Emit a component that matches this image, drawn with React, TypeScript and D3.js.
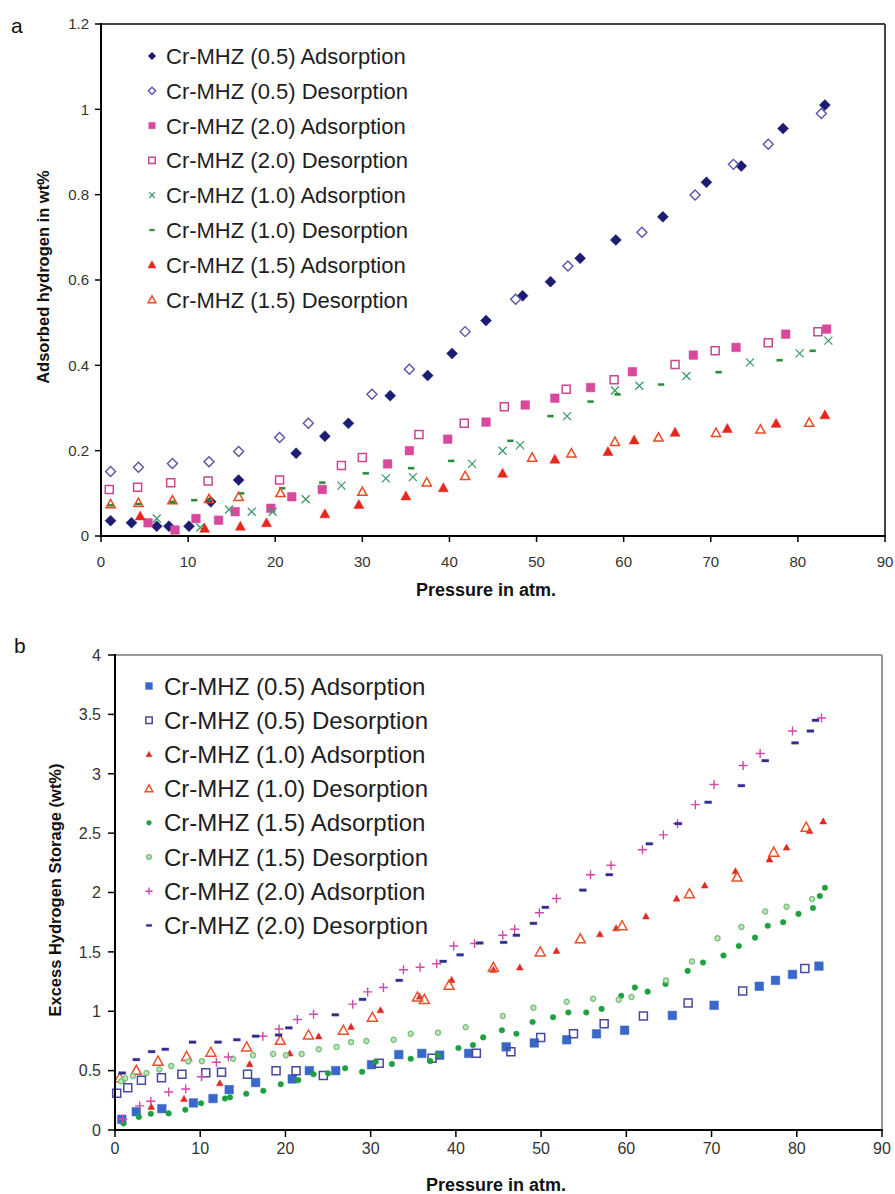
import React from 'react';
import * as d3 from 'd3';

type Pt = [number, number];
type Shape = 'diamond' | 'square' | 'triangle' | 'x' | 'dash' | 'plus' | 'circle';

// ---------- shared ticks ----------
const xTicks = [0, 10, 20, 30, 40, 50, 60, 70, 80, 90];
const aYTicks = [0, 0.2, 0.4, 0.6, 0.8, 1, 1.2];
const bYTicks = [0, 0.5, 1, 1.5, 2, 2.5, 3, 3.5, 4];

// ---------- panel a data ----------
const a05Ads: Pt[] = [[1.1,0.036],[3.5,0.031],[6.4,0.023],[7.8,0.023],[10.1,0.023],[12.6,0.08],[15.8,0.131],[22.4,0.194],[25.7,0.234],[28.4,0.264],[33.2,0.329],[37.5,0.376],[40.3,0.428],[44.2,0.505],[48.4,0.563],[51.6,0.596],[55.0,0.651],[59.1,0.694],[64.5,0.748],[69.5,0.829],[73.5,0.867],[78.3,0.955],[83.1,1.01]];
const a05Des: Pt[] = [[1.1,0.151],[4.3,0.161],[8.2,0.170],[12.4,0.174],[15.8,0.198],[20.5,0.231],[23.8,0.264],[31.1,0.332],[35.4,0.391],[41.8,0.479],[47.6,0.555],[53.6,0.633],[62.1,0.712],[68.2,0.799],[72.6,0.871],[76.6,0.918],[82.7,0.99]];
const a20Ads: Pt[] = [[5.4,0.031],[8.5,0.014],[10.9,0.041],[13.5,0.037],[15.4,0.057],[19.5,0.065],[21.9,0.092],[25.4,0.109],[32.9,0.169],[35.4,0.2],[39.8,0.227],[44.2,0.267],[48.7,0.307],[52.1,0.323],[56.2,0.348],[61.0,0.385],[68.0,0.424],[72.9,0.442],[78.6,0.473],[83.3,0.485]];
const a20Des: Pt[] = [[0.95,0.109],[4.2,0.114],[8.0,0.125],[12.3,0.129],[20.5,0.131],[27.6,0.165],[30.0,0.184],[36.5,0.238],[41.7,0.264],[46.3,0.303],[53.4,0.344],[58.9,0.366],[65.9,0.402],[70.5,0.434],[76.6,0.453],[82.3,0.479]];
const a10Ads: Pt[] = [[6.4,0.041],[11.4,0.02],[14.7,0.062],[17.3,0.057],[19.7,0.057],[23.5,0.086],[27.6,0.118],[32.7,0.135],[35.8,0.138],[42.6,0.169],[46.1,0.2],[48.1,0.213],[53.5,0.281],[59.0,0.341],[61.8,0.352],[67.2,0.375],[74.5,0.407],[80.2,0.428],[83.5,0.458]];
const a10Des: Pt[] = [[1.1,0.072],[4.3,0.075],[8.2,0.08],[10.7,0.084],[12.4,0.085],[16.1,0.1],[20.8,0.112],[25.4,0.125],[30.4,0.147],[35.6,0.159],[40.2,0.176],[47.0,0.223],[51.6,0.281],[56.2,0.315],[59.3,0.332],[64.3,0.355],[70.9,0.384],[77.9,0.412],[81.7,0.434]];
const a15Ads: Pt[] = [[4.5,0.047],[11.9,0.018],[16.0,0.023],[19.0,0.031],[25.7,0.052],[29.6,0.074],[35.0,0.094],[39.3,0.113],[46.1,0.147],[52.1,0.18],[58.2,0.198],[61.2,0.225],[65.9,0.243],[71.9,0.252],[77.5,0.264],[83.1,0.284]];
const a15Des: Pt[] = [[1.1,0.075],[4.3,0.078],[8.2,0.084],[12.4,0.087],[15.8,0.092],[20.6,0.101],[30.0,0.104],[37.4,0.126],[41.8,0.141],[49.5,0.184],[54.0,0.194],[59.0,0.221],[64.0,0.231],[70.6,0.242],[75.7,0.25],[81.3,0.266]];

// ---------- panel b data ----------
const b05Ads: Pt[] = [[0.8,0.09],[2.5,0.154],[5.5,0.18],[9.2,0.228],[11.5,0.265],[13.4,0.34],[16.5,0.4],[20.8,0.43],[22.8,0.5],[25.9,0.5],[30.1,0.55],[33.3,0.635],[36.0,0.645],[38.1,0.63],[41.5,0.645],[45.9,0.70],[49.2,0.733],[53.0,0.76],[56.5,0.81],[59.8,0.84],[65.4,0.965],[70.3,1.05],[75.6,1.21],[77.5,1.26],[79.5,1.31],[82.6,1.38]];
const b05Des: Pt[] = [[0.2,0.31],[1.5,0.355],[3.1,0.418],[5.45,0.44],[7.85,0.47],[10.65,0.483],[12.5,0.486],[15.55,0.47],[18.9,0.5],[21.25,0.5],[24.45,0.458],[31.0,0.563],[37.2,0.605],[42.4,0.646],[46.45,0.66],[49.95,0.778],[53.8,0.81],[57.4,0.895],[62.0,0.96],[67.25,1.07],[73.65,1.17],[80.95,1.36]];
const b10Ads: Pt[] = [[4.25,0.196],[8.1,0.263],[12.3,0.395],[15.8,0.556],[20.5,0.646],[23.9,0.79],[27.7,0.87],[31.15,1.01],[35.75,1.125],[39.5,1.265],[44.4,1.35],[47.5,1.37],[51.8,1.51],[56.9,1.65],[58.8,1.70],[62.3,1.80],[65.9,1.95],[69.2,2.06],[72.8,2.18],[76.8,2.28],[78.8,2.38],[81.5,2.52],[83.1,2.6]];
const b10Des: Pt[] = [[0.55,0.44],[2.5,0.503],[5.05,0.58],[8.4,0.62],[11.25,0.655],[15.45,0.70],[19.4,0.755],[22.7,0.80],[26.8,0.84],[30.2,0.95],[35.5,1.12],[36.3,1.10],[39.2,1.22],[44.4,1.37],[49.9,1.50],[54.6,1.61],[59.5,1.72],[67.4,1.99],[73.0,2.13],[77.3,2.34],[81.1,2.55]];
const b15Ads: Pt[] = [[1.0,0.055],[2.8,0.11],[4.2,0.137],[6.3,0.14],[8.25,0.17],[10.1,0.225],[12.9,0.265],[13.5,0.275],[15.4,0.305],[17.4,0.33],[19.45,0.385],[21.5,0.42],[23.3,0.47],[25.0,0.477],[27.0,0.52],[29.0,0.49],[30.6,0.575],[32.5,0.556],[34.7,0.60],[37.0,0.58],[37.9,0.63],[40.3,0.69],[42.0,0.716],[43.2,0.78],[45.4,0.84],[47.1,0.81],[49.0,0.91],[51.4,0.95],[53.2,0.99],[55.3,0.99],[57.1,1.02],[59.4,1.13],[61.0,1.20],[62.5,1.165],[64.6,1.23],[67.2,1.34],[69.0,1.41],[71.4,1.47],[73.2,1.55],[75.1,1.62],[76.6,1.72],[78.4,1.75],[80.2,1.82],[81.9,1.87],[82.7,1.97],[83.3,2.04]];
const b15Des: Pt[] = [[0.7,0.41],[1.2,0.435],[2.1,0.455],[3.7,0.48],[5.2,0.51],[6.6,0.54],[8.6,0.578],[10.2,0.58],[13.85,0.6],[16.2,0.63],[18.55,0.64],[20.05,0.63],[21.9,0.64],[23.9,0.68],[26.0,0.70],[27.7,0.74],[29.5,0.75],[32.7,0.76],[34.7,0.81],[37.9,0.82],[41.15,0.866],[45.5,0.96],[49.1,1.03],[53.0,1.08],[56.1,1.105],[59.1,1.097],[60.6,1.12],[64.65,1.26],[67.7,1.42],[70.7,1.615],[73.5,1.71],[76.3,1.84],[78.8,1.88],[81.8,1.945]];
const b20Ads: Pt[] = [[0.9,0.09],[2.9,0.203],[4.2,0.242],[6.3,0.32],[8.3,0.345],[10.15,0.448],[11.9,0.57],[13.3,0.615],[17.35,0.79],[19.25,0.85],[21.4,0.93],[23.3,0.975],[27.9,1.06],[29.65,1.163],[31.5,1.20],[33.85,1.35],[35.8,1.37],[37.75,1.40],[39.75,1.55],[42.2,1.57],[45.5,1.64],[46.9,1.69],[49.8,1.83],[51.8,1.95],[55.8,2.15],[58.2,2.23],[61.9,2.36],[64.35,2.485],[66.0,2.58],[68.1,2.74],[70.3,2.91],[73.7,3.07],[75.7,3.17],[79.5,3.36],[82.9,3.47]];
const b20Des: Pt[] = [[0.85,0.48],[2.5,0.593],[4.3,0.66],[5.9,0.68],[9.1,0.74],[12.1,0.74],[14.3,0.76],[16.5,0.79],[19.2,0.80],[20.4,0.86],[25.85,0.97],[29.05,1.10],[33.35,1.26],[38.5,1.42],[40.5,1.475],[42.8,1.575],[45.6,1.58],[47.1,1.64],[49.1,1.74],[50.5,1.875],[54.9,2.02],[58.0,2.15],[62.7,2.41],[66.1,2.58],[69.6,2.76],[73.5,2.90],[76.3,3.11],[79.8,3.26],[81.6,3.36],[82.2,3.45]];

const aLabels = ['Cr-MHZ (0.5) Adsorption','Cr-MHZ (0.5) Desorption','Cr-MHZ (2.0) Adsorption','Cr-MHZ (2.0) Desorption','Cr-MHZ (1.0) Adsorption','Cr-MHZ (1.0) Desorption','Cr-MHZ (1.5) Adsorption','Cr-MHZ (1.5) Desorption'];
const bLabels = ['Cr-MHZ (0.5) Adsorption','Cr-MHZ (0.5) Desorption','Cr-MHZ (1.0) Adsorption','Cr-MHZ (1.0) Desorption','Cr-MHZ (1.5) Adsorption','Cr-MHZ (1.5) Desorption','Cr-MHZ (2.0) Adsorption','Cr-MHZ (2.0) Desorption'];

interface Style { shape: Shape; r: number; lr: number; fill: string; stroke: string; sw: number }
interface Series { label: string; data: Pt[]; st: Style }

const aStyles: Style[] = [
  { shape: 'diamond', r: 5.5, lr: 3.8, fill: '#1c1c72', stroke: '#1c1c72', sw: 0.5 },
  { shape: 'diamond', r: 5, lr: 3.6, fill: 'none', stroke: '#5a52a8', sw: 1.4 },
  { shape: 'square', r: 4.3, lr: 3.2, fill: '#d8489c', stroke: '#d8489c', sw: 0.5 },
  { shape: 'square', r: 4, lr: 3.2, fill: 'none', stroke: '#c8488e', sw: 1.5 },
  { shape: 'x', r: 4, lr: 2.8, fill: 'none', stroke: '#3c9a6a', sw: 1.3 },
  { shape: 'dash', r: 3, lr: 2.5, fill: '#2a8a3a', stroke: '#2a8a3a', sw: 0.3 },
  { shape: 'triangle', r: 5, lr: 4, fill: '#e8261c', stroke: '#e8261c', sw: 0.5 },
  { shape: 'triangle', r: 4.6, lr: 3.8, fill: 'none', stroke: '#e84a24', sw: 1.5 },
];
const bStyles: Style[] = [
  { shape: 'square', r: 4.3, lr: 3.4, fill: '#3a68c8', stroke: '#3a68c8', sw: 0.5 },
  { shape: 'square', r: 4, lr: 3.2, fill: 'none', stroke: '#4848a2', sw: 1.5 },
  { shape: 'triangle', r: 3.4, lr: 3, fill: '#e02820', stroke: '#e02820', sw: 0.5 },
  { shape: 'triangle', r: 5, lr: 3.8, fill: 'none', stroke: '#e8502a', sw: 1.5 },
  { shape: 'circle', r: 2.8, lr: 2.4, fill: '#1fa040', stroke: '#1fa040', sw: 0.5 },
  { shape: 'circle', r: 2.6, lr: 2.4, fill: '#bfe2b6', stroke: '#74be78', sw: 1.2 },
  { shape: 'plus', r: 4.5, lr: 3.6, fill: 'none', stroke: '#d048a8', sw: 1.4 },
  { shape: 'dash', r: 3.5, lr: 2.8, fill: '#30308c', stroke: '#30308c', sw: 0.3 },
];

const aData = [a05Ads, a05Des, a20Ads, a20Des, a10Ads, a10Des, a15Ads, a15Des];
const bData = [b05Ads, b05Des, b10Ads, b10Des, b15Ads, b15Des, b20Ads, b20Des];

const aSeries: Series[] = aData.map((d, i) => ({ label: aLabels[i], data: d, st: aStyles[i] }));
const bSeries: Series[] = bData.map((d, i) => ({ label: bLabels[i], data: d, st: bStyles[i] }));

function symbolPath(shape: Shape, r: number): string {
  switch (shape) {
    case 'diamond': return `M0,${-r}L${r},0L0,${r}L${-r},0Z`;
    case 'square': return `M${-r},${-r}H${r}V${r}H${-r}Z`;
    case 'triangle': return `M0,${-r}L${r},${r * 0.8}L${-r},${r * 0.8}Z`;
    case 'x': return `M${-r},${-r}L${r},${r}M${-r},${r}L${r},${-r}`;
    case 'plus': return `M${-r},0H${r}M0,${-r}V${r}`;
    case 'dash': return `M${-r},${-r * 0.38}H${r}V${r * 0.38}H${-r}Z`;
    case 'circle': return d3.symbol(d3.symbolCircle, Math.PI * r * r)() as string;
  }
  return '';
}

const FONT = '"Liberation Sans", Arial, Helvetica, sans-serif';

interface PanelProps {
  left: number; right: number; top: number; bottom: number;
  yMax: number; yTicks: number[];
  series: Series[];
  borderColor: string;
  tickLen: number;
  yLabelX: number; xLabelY: number; tickFont: number;
  legendX: number; legendTextX: number; legendY0: number; legendStep: number; legendFont: number;
  xTitle: string; xTitleX: number; xTitleY: number;
  yTitle: string; yTitleX: number; yTitleY: number;
  letter: string; letterX: number; letterY: number;
}

function Panel(p: PanelProps) {
  const x = d3.scaleLinear().domain([0, 90]).range([p.left, p.right]);
  const y = d3.scaleLinear().domain([0, p.yMax]).range([p.bottom, p.top]);
  const fmt = (v: number) => String(+v.toFixed(2));
  return (
    <g>
      <text x={p.letterX} y={p.letterY} fontSize={21} fontFamily={FONT} fill="#111">{p.letter}</text>
      {/* plot frame */}
      <line x1={p.left} x2={p.right} y1={p.top} y2={p.top} stroke={p.borderColor} strokeWidth={2} />
      <line x1={p.right} x2={p.right} y1={p.top} y2={p.bottom} stroke={p.borderColor} strokeWidth={2} />
      {/* legend */}
      {p.series.map((s, i) => {
        const ly = p.legendY0 + i * p.legendStep;
        return (
          <g key={'lg' + i}>
            <path d={symbolPath(s.st.shape, s.st.lr)} transform={`translate(${p.legendX},${ly})`}
              fill={s.st.fill} stroke={s.st.stroke} strokeWidth={s.st.sw} />
            <text x={p.legendTextX} y={ly} dy="0.36em" fontSize={p.legendFont} fontFamily={FONT} fill="#1e1e1e">{s.label}</text>
          </g>
        );
      })}
      {/* points */}
      {p.series.map((s, i) => (
        <g key={'s' + i}>
          {s.data.map((d, j) => (
            <path key={j} d={symbolPath(s.st.shape, s.st.r)} transform={`translate(${x(d[0])},${y(d[1])})`}
              fill={s.st.fill} stroke={s.st.stroke} strokeWidth={s.st.sw} />
          ))}
        </g>
      ))}
      {/* axes */}
      <line x1={p.left} x2={p.left} y1={p.top - 1} y2={p.bottom + 1} stroke="#000" strokeWidth={2} />
      <line x1={p.left - 1} x2={p.right + 1} y1={p.bottom} y2={p.bottom} stroke="#000" strokeWidth={2} />
      {p.yTicks.map((t) => (
        <g key={'yt' + t}>
          <line x1={p.left - p.tickLen} x2={p.left} y1={y(t)} y2={y(t)} stroke="#000" strokeWidth={1.5} />
          <text x={p.yLabelX} y={y(t)} dy="0.36em" textAnchor="end" fontSize={p.tickFont} fontFamily={FONT} fill="#333">{fmt(t)}</text>
        </g>
      ))}
      {xTicks.map((t) => (
        <g key={'xt' + t}>
          <line x1={x(t)} x2={x(t)} y1={p.bottom} y2={p.bottom + p.tickLen} stroke="#000" strokeWidth={1.5} />
          <text x={x(t)} y={p.xLabelY} textAnchor="middle" fontSize={p.tickFont} fontFamily={FONT} fill="#333">{t}</text>
        </g>
      ))}
      <text x={p.xTitleX} y={p.xTitleY} textAnchor="middle" fontSize={18} fontWeight="bold" fontFamily={FONT} fill="#111">{p.xTitle}</text>
      <text transform={`translate(${p.yTitleX},${p.yTitleY}) rotate(-90)`} dy="0.36em" textAnchor="middle" fontSize={16.5} fontWeight="bold" fontFamily={FONT} fill="#111">{p.yTitle}</text>
    </g>
  );
}

export default function App() {
  return (
    <svg width={895} height={1194} viewBox="0 0 895 1194" style={{ position: 'absolute', left: 0, top: 0, background: '#fff' }}>
      <rect width={895} height={1194} fill="#fff" />
      <Panel left={101} right={885} top={24} bottom={536} yMax={1.2} yTicks={aYTicks} series={aSeries}
        borderColor="#444" tickLen={6} yLabelX={89} xLabelY={567} tickFont={15}
        legendX={152} legendTextX={166} legendY0={56} legendStep={34.8} legendFont={22}
        xTitle="Pressure in atm." xTitleX={486} xTitleY={596}
        yTitle="Adsorbed hydrogen in wt%" yTitleX={43} yTitleY={277}
        letter="a" letterX={11} letterY={33} />
      <Panel left={115} right={882} top={655} bottom={1130} yMax={4} yTicks={bYTicks} series={bSeries}
        borderColor="#999" tickLen={7} yLabelX={101} xLabelY={1154} tickFont={16}
        legendX={149} legendTextX={164} legendY0={686} legendStep={34.2} legendFont={24}
        xTitle="Pressure in atm." xTitleX={496} xTitleY={1191}
        yTitle="Excess Hydrogen Storage (wt%)" yTitleX={55} yTitleY={890}
        letter="b" letterX={14} letterY={653} />
    </svg>
  );
}
